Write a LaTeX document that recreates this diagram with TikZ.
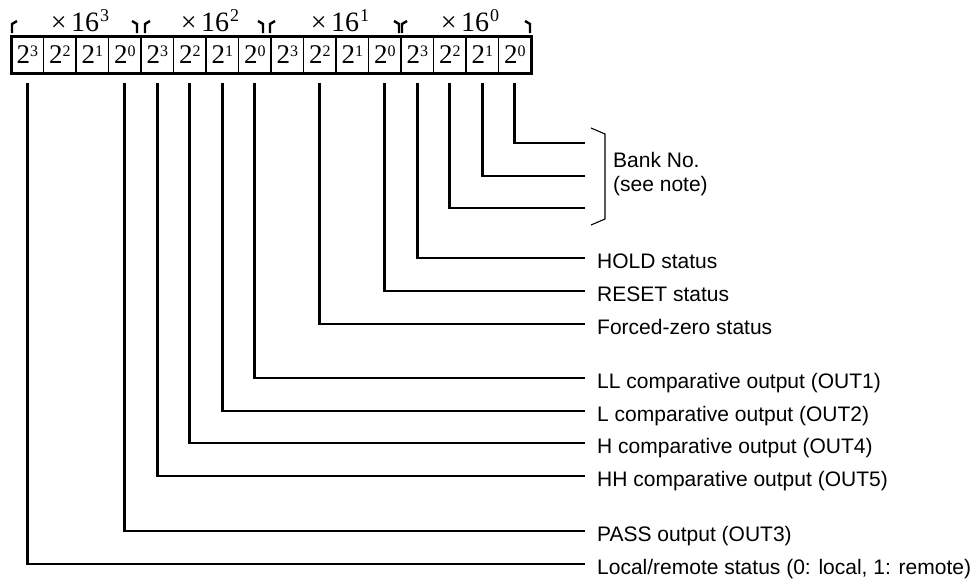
\documentclass[tikz,border=0pt]{standalone}
\usepackage{fontspec}
\setmainfont{Liberation Serif}
\newfontfamily\labfont{Liberation Sans}
\newcommand\bitt[1]{2\raisebox{7.5pt}{\fontsize{16}{16}\selectfont #1}}
\newcommand\hdrtxt[1]{\texttimes\,16\kern1pt\raisebox{10pt}{\fontsize{18}{18}\selectfont #1}}
\begin{document}
\begin{tikzpicture}[x=1pt,y=-1pt,
  cell/.style={draw, line width=1.8pt, minimum width=32.5pt, minimum height=37pt,
    inner sep=0pt, outer sep=0pt, font=\fontsize{27}{27}\selectfont},
  lab/.style={font=\labfont\fontsize{21}{24}\selectfont, inner sep=0pt, anchor=base west},
  hdr/.style={font=\fontsize{28}{28}\selectfont, inner sep=0pt, anchor=base},
  conn/.style={line width=2.6pt},
  tickmk/.style={line width=2.4pt},
  brack/.style={line width=1.1pt}]
\useasboundingbox (0,0) rectangle (972,581);
% cells
\foreach \i in {1,...,16} {
  \pgfmathtruncatemacro\b{3-mod(\i-1,4)}
  \node[cell] (c\i) at ({11+(\i-0.5)*32.5}, 54.5) {\bitt{\b}};
}
\draw[line width=3pt] (c1.north west) rectangle (c16.south east);
% headers
\node[hdr] (h3) at (80,31) {\hdrtxt{3}};
\node[hdr] (h2) at (210,31) {\hdrtxt{2}};
\node[hdr] (h1) at (340,31) {\hdrtxt{1}};
\node[hdr] (h0) at (470,31) {\hdrtxt{0}};
% group marks
\foreach \x in {12,145,270,402} \draw[tickmk] (\x,33) -- (\x,24) -- (\x+5,21);
\foreach \x in {137,263,399,530} \draw[tickmk] (\x,33) -- (\x,24) -- (\x-5,21);
% labels
\node[lab, align=left] (bank) at (613,191) {Bank No.\\(see note)};
\node[lab] (hold)  at (597,268.5) {HOLD status};
\node[lab] (reset) at (597,301.5) {RESET status};
\node[lab] (fz)    at (597,334.5) {Forced-zero status};
\node[lab] (ll)    at (597,388.5) {LL comparative output (OUT1)};
\node[lab] (lo)    at (597,421.5) {L comparative output (OUT2)};
\node[lab] (hi)    at (597,453.5) {H comparative output (OUT4)};
\node[lab] (hh)    at (597,486.5) {HH comparative output (OUT5)};
\node[lab] (pass)  at (597,541.5) {PASS output (OUT3)};
\node[lab] (lr)    at (597,574.5) {Local/remote status (0: local, 1: remote)};
% connector ends
\coordinate (e16) at (585,143);
\coordinate (e15) at (585,176);
\coordinate (e14) at (585,208);
\coordinate (e13) at (585,258);
\coordinate (e12) at (585,291);
\coordinate (e10) at (585,324);
\coordinate (e8)  at (585,378);
\coordinate (e7)  at (585,411);
\coordinate (e6)  at (585,443);
\coordinate (e5)  at (585,476);
\coordinate (e4)  at (585,531);
\coordinate (e1)  at (585,564);
\foreach \k in {16,15,14,13,12,10,8,7,6,5,4,1}
  \draw[conn] ([yshift=-10pt]c\k.south) |- (e\k);
% bracket
\coordinate (bt) at (591,128);
\coordinate (bb) at (591,225);
\draw[brack] (bt) -- (605,134) -- (605,219) -- (bb);
\end{tikzpicture}
\end{document}
